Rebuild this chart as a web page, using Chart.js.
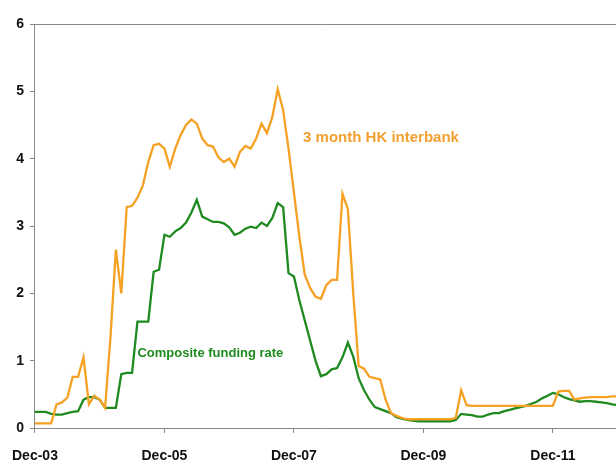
<!DOCTYPE html>
<html>
<head>
<meta charset="utf-8">
<script src="https://cdn.jsdelivr.net/npm/chart.js@4/dist/chart.umd.min.js"></script>
<style>
  html, body { margin: 0; padding: 0; background: #fff; }
  #rates { display: block; }
</style>
</head>
<body>
<canvas id="rates" width="616" height="463"></canvas>
<script>
// month index from Dec-03, axis labelled every two years
const tickLabels = ['Dec-03', 'Dec-05', 'Dec-07', 'Dec-09', 'Dec-11'];

// 3 month HIBOR, % (monthly)
const hibor = [
  0.07, 0.07, 0.07, 0.07, 0.35, 0.38, 0.45, 0.76, 0.76, 1.05,
  0.35, 0.48, 0.42, 0.30, 1.35, 2.65, 2.00, 3.28, 3.30, 3.42,
  3.60, 3.95, 4.20, 4.22, 4.15, 3.88, 4.15, 4.35, 4.50, 4.58,
  4.52, 4.30, 4.20, 4.18, 4.02, 3.95, 4.00, 3.88, 4.10, 4.19,
  4.15, 4.30, 4.52, 4.38, 4.62, 5.03, 4.72, 4.15, 3.50, 2.85,
  2.28, 2.08, 1.95, 1.92, 2.12, 2.20, 2.20, 3.48, 3.25, 2.00,
  0.92, 0.88, 0.76, 0.74, 0.72, 0.42, 0.22, 0.18, 0.15, 0.13,
  0.13, 0.13, 0.13, 0.13, 0.13, 0.13, 0.13, 0.13, 0.15, 0.56,
  0.34, 0.33, 0.33, 0.33, 0.33, 0.33, 0.33, 0.33, 0.33, 0.33,
  0.33, 0.33, 0.33, 0.33, 0.33, 0.33, 0.33, 0.54, 0.55, 0.55,
  0.42, 0.44, 0.45, 0.46, 0.46, 0.46, 0.46, 0.47, 0.47
];

// composite funding rate, % (monthly)
const composite = [
  0.24, 0.24, 0.24, 0.21, 0.20, 0.20, 0.22, 0.24, 0.25, 0.42,
  0.46, 0.46, 0.42, 0.30, 0.30, 0.30, 0.80, 0.82, 0.82, 1.58,
  1.58, 1.58, 2.32, 2.35, 2.87, 2.84, 2.92, 2.97, 3.05, 3.20,
  3.39, 3.14, 3.10, 3.06, 3.06, 3.04, 2.98, 2.87, 2.90, 2.96,
  2.99, 2.97, 3.05, 3.00, 3.12, 3.34, 3.28, 2.30, 2.25, 1.90,
  1.60, 1.30, 1.00, 0.77, 0.80, 0.87, 0.89, 1.05, 1.27, 1.06,
  0.74, 0.56, 0.42, 0.31, 0.28, 0.25, 0.22, 0.16, 0.14, 0.12,
  0.11, 0.10, 0.10, 0.10, 0.10, 0.10, 0.10, 0.10, 0.12, 0.21,
  0.20, 0.19, 0.17, 0.17, 0.20, 0.22, 0.22, 0.25, 0.27, 0.29,
  0.31, 0.33, 0.36, 0.39, 0.44, 0.48, 0.52, 0.50, 0.46, 0.43,
  0.41, 0.39, 0.40, 0.40, 0.39, 0.38, 0.37, 0.35, 0.34
];

const ORANGE = '#f5a124';
const GREEN = '#1f8a1f';
const AXIS = '#8a8a8a';
const FAMILY = '"Liberation Sans", Arial, sans-serif';
const FONT = { family: FAMILY, weight: 'bold', size: 14 };
// taller line box pushes the date labels a little lower under the axis
const X_FONT = { family: FAMILY, weight: 'bold', size: 14, lineHeight: 1.6 };

const toPoints = arr => arr.map((v, i) => ({ x: i, y: v }));

// series names written inside the plot, anchored in data units
const seriesLabels = [
  { text: '3 month HK interbank', x: 49.7, y: 4.31, color: '#f2a030', size: 15 },
  { text: 'Composite funding rate', x: 19.0, y: 1.11, color: GREEN, size: 13 }
];

const inlineLabels = {
  id: 'inlineLabels',
  afterDatasetsDraw(chart) {
    const { ctx, scales } = chart;
    ctx.save();
    ctx.textBaseline = 'middle';
    ctx.textAlign = 'left';
    seriesLabels.forEach(l => {
      ctx.font = 'bold ' + l.size + 'px ' + FAMILY;
      ctx.fillStyle = l.color;
      ctx.fillText(l.text, scales.x.getPixelForValue(l.x), scales.y.getPixelForValue(l.y));
    });
    ctx.restore();
  }
};

new Chart(document.getElementById('rates').getContext('2d'), {
  type: 'line',
  data: {
    datasets: [
      {
        label: '3 month HK interbank',
        data: toPoints(hibor),
        borderColor: ORANGE,
        borderWidth: 2.3,
        pointRadius: 0,
        tension: 0
      },
      {
        label: 'Composite funding rate',
        data: toPoints(composite),
        borderColor: GREEN,
        borderWidth: 2.3,
        pointRadius: 0,
        tension: 0
      }
    ]
  },
  options: {
    responsive: false,
    animation: false,
    layout: { padding: { top: 24, right: 0, bottom: 0, left: 0 } },
    plugins: { legend: { display: false }, tooltip: { enabled: false } },
    scales: {
      x: {
        type: 'linear',
        min: 0,
        max: 107.7,
        border: { color: AXIS, width: 1 },
        grid: { drawOnChartArea: false, drawTicks: true, tickLength: 5, color: AXIS },
        ticks: {
          stepSize: 24,
          includeBounds: false,
          autoSkip: false,
          maxRotation: 0,
          padding: 12,
          color: '#111',
          font: X_FONT,
          callback: v => tickLabels[v / 24] ?? ''
        },
        afterFit: s => { s.height = 35; }
      },
      y: {
        min: 0,
        max: 6,
        border: { color: AXIS, width: 1 },
        grid: {
          drawTicks: true,
          tickLength: 5,
          tickColor: AXIS,
          color: c => (c.tick && c.tick.value === 6 ? AXIS : 'rgba(0,0,0,0)')
        },
        ticks: { stepSize: 1, padding: 6, color: '#111', font: FONT },
        afterFit: s => { s.width = 33; }
      }
    }
  },
  plugins: [inlineLabels]
});
</script>
</body>
</html>
